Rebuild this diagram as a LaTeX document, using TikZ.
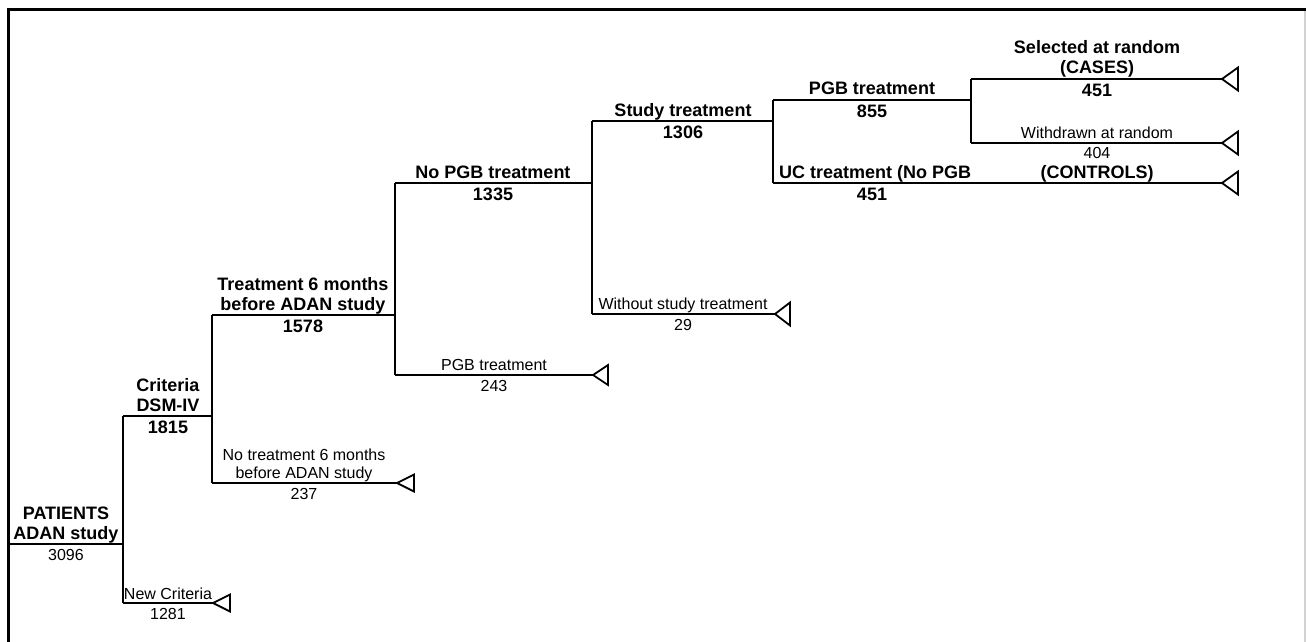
\documentclass[tikz,border=0pt]{standalone}
\usepackage{fontspec}
\setmainfont{Liberation Sans}
\newcommand\nrmf{\fontsize{16}{18}\selectfont}
\newcommand\bldf{\fontsize{18}{20}\selectfont\bfseries}
\tikzset{
  lab/.style={inner sep=0pt, anchor=base, font=\nrmf},
  blab/.style={inner sep=0pt, anchor=base, font=\bldf},
  hbranch/.style={line width=2.8pt},
  vbranch/.style={line width=2pt},
  frame/.style={line width=3pt},
  endtri/.style={line width=1.8pt, line join=miter}
}
\begin{document}
\begin{tikzpicture}[x=1pt,y=-1pt]
\useasboundingbox (0,0) rectangle (1306,642);
% frame
\coordinate (fbl) at (8,642);
\coordinate (ftl) at (8,10);
\coordinate (ftr) at (1306,10);
\coordinate (frt) at (1305,11.5);
\coordinate (frb) at (1305,642);
\draw[frame] (fbl) -- (ftl) -- (ftr);
\draw[gray!35, line width=1.5pt] (frt) -- (frb);

% tree coordinates
\coordinate (r0) at (8,544);
\coordinate (r1) at (123,544);
\coordinate (a0) at (123,416);
\coordinate (a1) at (212,416);
\coordinate (b0) at (123,603);
\coordinate (b1) at (213,603);
\coordinate (c0) at (212,315);
\coordinate (c1) at (395,315);
\coordinate (d0) at (212,483);
\coordinate (d1) at (397,483);
\coordinate (e0) at (395,183);
\coordinate (e1) at (592,183);
\coordinate (f0) at (395,375);
\coordinate (f1) at (593,375);
\coordinate (g0) at (592,121);
\coordinate (g1) at (773,121);
\coordinate (h0) at (592,314);
\coordinate (h1) at (775,314);
\coordinate (i0) at (773,100);
\coordinate (i1) at (971,100);
\coordinate (j0) at (773,183);
\coordinate (j1) at (1222,183);
\coordinate (k0) at (971,79);
\coordinate (k1) at (1222,79);
\coordinate (l0) at (971,143);
\coordinate (l1) at (1222,143);

% horizontal branches
\draw[hbranch] (r0) -- (r1);
\draw[hbranch] (a0) -- (a1);
\draw[hbranch] (b0) -- (b1);
\draw[hbranch] (c0) -- (c1);
\draw[hbranch] (d0) -- (d1);
\draw[hbranch] (e0) -- (e1);
\draw[hbranch] (f0) -- (f1);
\draw[hbranch] (g0) -- (g1);
\draw[hbranch] (h0) -- (h1);
\draw[hbranch] (i0) -- (i1);
\draw[hbranch] (j0) -- (j1);
\draw[hbranch] (k0) -- (k1);
\draw[hbranch] (l0) -- (l1);
% vertical splits
\draw[vbranch] (a0) -- (b0);
\draw[vbranch] (c0) -- (d0);
\draw[vbranch] (e0) -- (f0);
\draw[vbranch] (g0) -- (h0);
\draw[vbranch] (i0) -- (j0);
\draw[vbranch] (k0) -- (l0);
% terminal triangles
\draw[endtri] (b1) -- ++(17,-8.5) -- ++(0,17) -- cycle;
\draw[endtri] (d1) -- ++(17,-8.5) -- ++(0,17) -- cycle;
\draw[endtri] (f1) -- ++(15,-10) -- ++(0,20) -- cycle;
\draw[endtri] (h1) -- ++(15,-11.5) -- ++(0,23) -- cycle;
\draw[endtri] (j1) -- ++(16,-11.5) -- ++(0,23) -- cycle;
\draw[endtri] (k1) -- ++(16,-11.5) -- ++(0,23) -- cycle;
\draw[endtri] (l1) -- ++(16,-11.5) -- ++(0,23) -- cycle;

% labels
\node[blab] (t1a) at (66,519) {PATIENTS};
\node[blab] (t1b) at (66,539) {ADAN study};
\node[lab]  (n1)  at (66,560) {3096};

\node[blab] (t2a) at (168,391) {Criteria};
\node[blab] (t2b) at (168,411) {DSM-IV};
\node[blab] (n2)  at (168,433) {1815};

\node[lab] (t3) at (168,599) {New Criteria};
\node[lab] (n3) at (168,619) {1281};

\node[blab] (t4a) at (303,290) {Treatment 6 months};
\node[blab] (t4b) at (303,310) {before ADAN study};
\node[blab] (n4)  at (303,332) {1578};

\node[lab] (t5a) at (304,460.5) {No treatment 6 months};
\node[lab] (t5b) at (304,478.5) {before ADAN study};
\node[lab] (n5)  at (304,499) {237};

\node[blab] (t6) at (493,178) {No PGB treatment};
\node[blab] (n6) at (493,200) {1335};

\node[lab] (t7) at (494,370.5) {PGB treatment};
\node[lab] (n7) at (494,391) {243};

\node[blab] (t8) at (683,116) {Study treatment};
\node[blab] (n8) at (683,138) {1306};

\node[lab] (t9) at (683,309.5) {Without study treatment};
\node[lab] (n9) at (683,330) {29};

\node[blab] (t10) at (872,95) {PGB treatment};
\node[blab] (n10) at (872,117) {855};

\node[blab, anchor=base west] (t11) at (779,178) {UC treatment (No PGB};
\node[blab] (t11b) at (1097,178) {(CONTROLS)};
\node[blab] (n11) at (872,200) {451};

\node[blab] (t12a) at (1097,54) {Selected at random};
\node[blab] (t12b) at (1097,74) {(CASES)};
\node[blab] (n12)  at (1097,96) {451};

\node[lab] (t13) at (1097,138.5) {Withdrawn at random};
\node[lab] (n13) at (1097,158.5) {404};
\end{tikzpicture}
\end{document}
